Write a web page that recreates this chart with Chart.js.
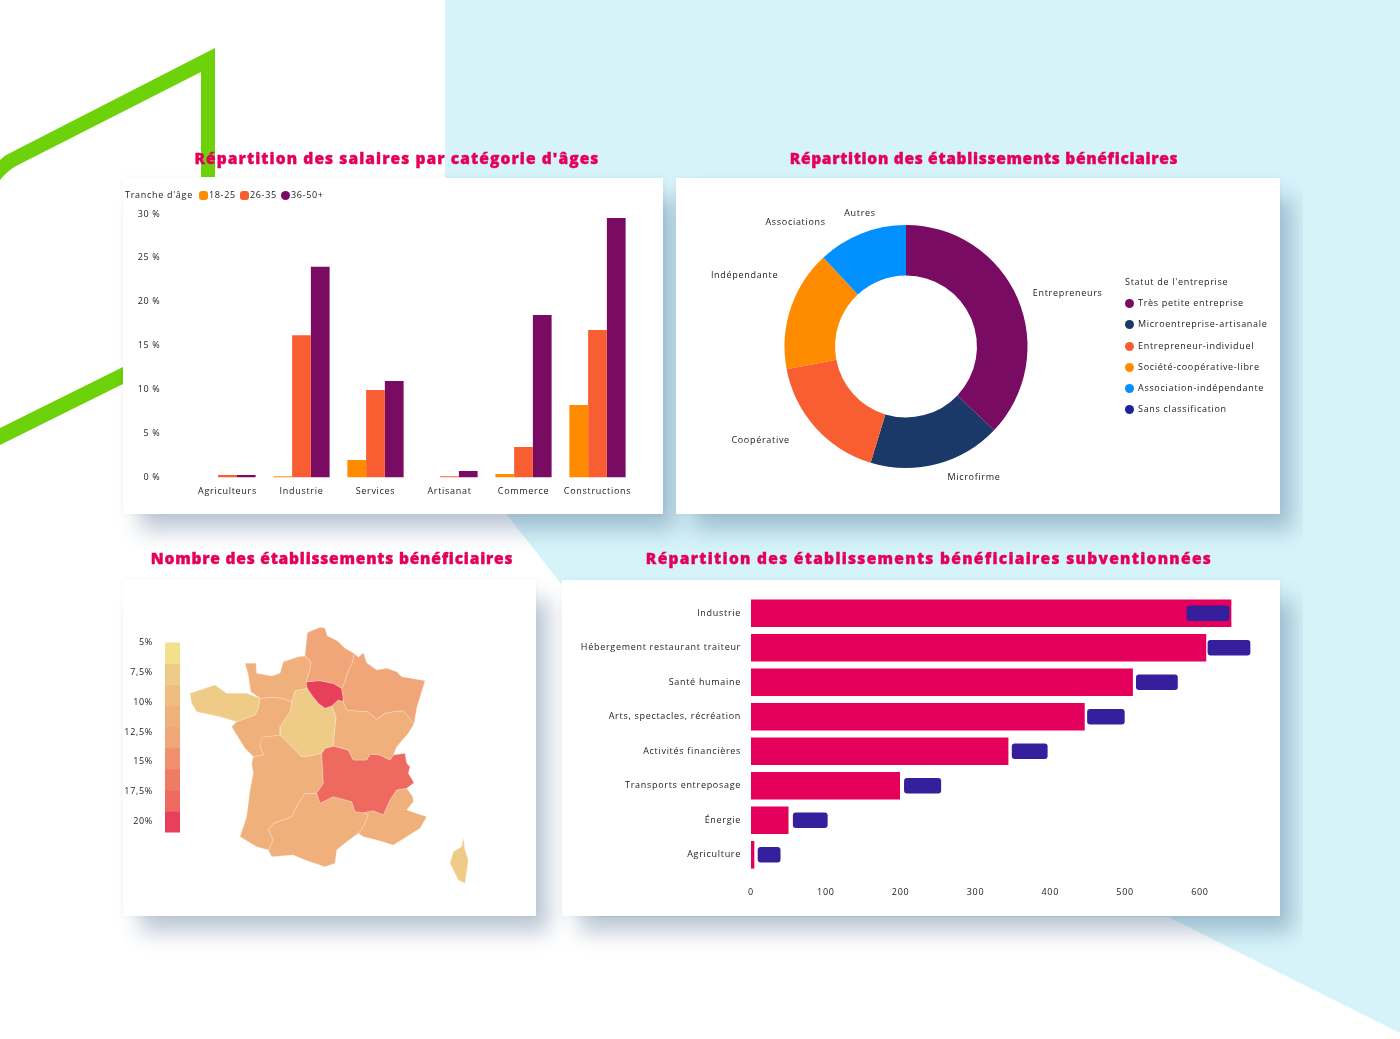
<!DOCTYPE html>
<html lang="fr">
<head>
<meta charset="utf-8">
<title>Tableau de bord</title>
<script src="https://cdn.jsdelivr.net/npm/chart.js@4/dist/chart.umd.js"></script>
<style>
    html, body { margin: 0; padding: 0; background: #fff; }
    body { width: 1400px; height: 1039px; position: relative; overflow: hidden; font-family: "Open Sans", sans-serif; color: #222; }
    #page { position: absolute; left: 0; top: 0; width: 1400px; height: 1039px; filter: blur(0.7px); }
    #decor { position: absolute; left: 0; top: 0; }
    #shadows { position: absolute; left: 0; top: 0; width: 1303px; height: 1039px; overflow: hidden; }
    .shadow { position: absolute; box-shadow: 15px 18px 20px -2px rgba(50, 85, 125, 0.32); }
    .card { position: absolute; background: #fff; box-shadow: 0 0 6px rgba(40, 60, 90, 0.05); }
    .card canvas { position: absolute; left: 0; top: 0; }
    .title { position: absolute; transform: translateX(-50%); white-space: nowrap; font-weight: 800; font-size: 15.5px; line-height: 16px; color: #e4005a; -webkit-text-stroke: 0.4px #e4005a; }
    .legend { position: absolute; font-size: 9px; letter-spacing: 0.7px; line-height: 10px; white-space: nowrap; }
    .legend i { display: inline-block; width: 9px; height: 9px; border-radius: 3px; vertical-align: -2px; }
    #legend-bars { left: 2px; top: 12px; }
    #legend-bars span { margin-right: 4px; }
    #legend-bars i { margin-right: 1px; }
    #legend-donut { left: 449px; top: 99px; }
    #legend-donut div { height: 21.2px; }
    #legend-donut i { border-radius: 50%; margin-right: 4px; }
</style>
</head>
<body>
<div id="page">
    <svg id="decor" width="1400" height="1039">
        <polygon fill="#d6f3fa" points="445,0 1400,0 1400,1033 1168,917 600,917 562,585 507,515 445,440"/>
        <path fill="#6dd20a" d="M215,48 L215,177 L201,177 L201,72 L18,165 Q8,170 0,180 L0,160 Q5,155 12,152 Z"/>
        <polygon fill="#6dd20a" points="0,428 123,367 123,384 0,445"/>
    </svg>
    <div id="shadows">
        <div class="shadow" style="left:123px;top:178px;width:540px;height:336px"></div>
        <div class="shadow" style="left:676px;top:178px;width:604px;height:336px"></div>
        <div class="shadow" style="left:123px;top:580px;width:413px;height:336px"></div>
        <div class="shadow" style="left:562px;top:580px;width:718px;height:336px"></div>
    </div>

    <div class="card" style="left:123px;top:178px;width:540px;height:336px">
        <canvas id="bars-chart" width="540" height="336"></canvas>
        <div class="legend" id="legend-bars"></div>
    </div>
    <div class="card" style="left:676px;top:178px;width:604px;height:336px">
        <canvas id="donut-chart" width="604" height="336"></canvas>
        <div class="legend" id="legend-donut"></div>
    </div>
    <div class="card" style="left:123px;top:580px;width:413px;height:336px">
        <canvas id="map-chart" width="413" height="336"></canvas>
        <canvas id="ramp-chart" width="60" height="225" style="top:45px"></canvas>
    </div>
    <div class="card" style="left:562px;top:580px;width:718px;height:336px">
        <canvas id="rows-chart" width="718" height="336"></canvas>
    </div>

    <div class="title" style="left:397px;top:150px;letter-spacing:1.1px">Répartition des salaires par catégorie d'âges</div>
    <div class="title" style="left:984px;top:150px;letter-spacing:0.7px">Répartition des établissements bénéficiaires</div>
    <div class="title" style="left:332px;top:550px;letter-spacing:0.8px">Nombre des établissements bénéficiaires</div>
    <div class="title" style="left:929px;top:550px;letter-spacing:1.3px">Répartition des établissements bénéficiaires subventionnées</div>
</div>

<script>
// Bars: salaries by sector and age band
const barCategories = ['Agriculteurs', 'Industrie', 'Services', 'Artisanat', 'Commerce', 'Constructions'];
const barLegendTitle = "Tranche d'âge";
const barSeriesNames = ['18-25', '26-35', '36-50+'];
const barSeriesA = [0, 0.15, 2, 0, 0.4, 8.26];
const barSeriesB = [0.28, 16.2, 9.97, 0.15, 3.47, 16.8];
const barSeriesC = [0.28, 24, 11, 0.74, 18.5, 29.55];
const barColors = ['#ff8c00', '#f95e32', '#7a0b62'];

// Donut: share of establishments
const donutLabels = ['Entrepreneurs', 'Microfirme', 'Coopérative', 'Indépendante', 'Associations', 'Autres'];
const donutValues = [37.1, 17.6, 17.3, 16.1, 11.9, 0];
const donutLegendTitle = "Statut de l'entreprise";
const donutLegendNames = ['Très petite entreprise', 'Microentreprise-artisanale', 'Entrepreneur-individuel',
    'Société-coopérative-libre', 'Association-indépendante', 'Sans classification'];
const donutColors = ['#7a0b62', '#1a3868', '#f95e32', '#ff8c00', '#0090ff', '#1f1fa0'];

// Map: share per region, outlines in map units
const rampStops = [5, 6.77, 8.54, 10.31, 12.07, 13.84, 15.61, 17.38, 19.15, 20.92];
const rampColors = ['#f2e08a', '#eecb87', '#efbd80', '#f0b07c', '#f0a678', '#ef8f6c', '#ee7b64', '#ee6a60', '#e8405a'];
const regionNames = ['Hauts-de-France', 'Grand Est', 'Île-de-France', 'Normandie', 'Bretagne', 'Pays de la Loire',
    'Centre-Val de Loire', 'Bourgogne-Franche-Comté', 'Auvergne-Rhône-Alpes', 'Nouvelle-Aquitaine', 'Occitanie', 'PACA', 'Corse'];
const regionValues = [13, 13, 20, 11, 8, 11, 8, 11, 17.5, 11, 11, 11, 8];
const regionOutlines = [
    [[232,38],[250,30],[270,22],[285,25],[292,48],[322,62],[345,85],[372,100],[368,125],[352,160],[345,185],[335,205],[310,190],[270,182],[228,185],[240,150],[243,125],[225,108]],
    [[372,100],[385,112],[400,98],[410,128],[440,150],[470,145],[500,155],[515,170],[585,182],[575,215],[560,265],[552,312],[535,290],[520,272],[490,275],[465,280],[440,298],[415,275],[370,272],[350,270],[340,245],[340,235],[335,205],[345,185],[352,160],[368,125]],
    [[228,185],[270,182],[310,190],[335,205],[340,235],[340,245],[325,240],[305,258],[285,265],[265,250],[245,225],[232,205]],
    [[45,130],[78,130],[80,160],[125,168],[150,160],[160,125],[205,110],[225,108],[243,125],[240,150],[228,185],[232,205],[195,212],[185,245],[160,235],[130,232],[90,235],[62,215],[55,165]],
    [[-120,220],[-45,195],[-10,220],[50,220],[90,235],[85,265],[75,285],[20,305],[-30,290],[-100,275],[-115,250]],
    [[90,235],[130,232],[160,235],[185,245],[180,275],[150,320],[150,345],[95,352],[90,380],[100,405],[70,410],[45,385],[20,345],[5,320],[20,305],[75,285],[85,265]],
    [[195,212],[232,205],[245,225],[265,250],[285,265],[305,258],[318,290],[312,350],[310,378],[285,385],[275,400],[240,408],[215,410],[190,385],[150,345],[150,320],[180,275],[185,245]],
    [[305,258],[325,240],[340,245],[350,270],[370,272],[415,275],[440,298],[465,280],[490,275],[520,272],[535,290],[552,312],[535,340],[500,380],[490,405],[480,420],[450,405],[420,402],[410,420],[370,420],[355,390],[310,378],[312,350],[318,290]],
    [[275,400],[285,385],[310,378],[355,390],[370,420],[410,420],[420,402],[450,405],[480,420],[490,405],[525,400],[530,430],[540,440],[535,460],[552,488],[530,505],[500,510],[480,540],[460,585],[430,572],[400,578],[375,575],[365,545],[310,530],[270,550],[260,520],[280,490]],
    [[90,352],[150,345],[190,385],[215,410],[240,408],[275,400],[280,490],[260,520],[225,520],[205,550],[185,590],[130,610],[115,630],[130,660],[115,690],[80,680],[30,650],[50,590],[60,510],[70,460],[65,430],[70,410],[100,405],[90,380]],
    [[115,690],[130,660],[115,630],[130,610],[185,590],[205,550],[225,520],[260,520],[270,550],[310,530],[365,545],[375,575],[400,578],[415,585],[400,620],[385,640],[350,665],[320,690],[315,730],[285,740],[225,720],[190,705],[125,710]],
    [[415,585],[400,578],[430,572],[460,585],[480,540],[500,510],[530,505],[548,530],[550,545],[530,570],[590,590],[570,625],[530,650],[490,675],[440,660],[400,650],[385,640],[400,620]],
    [[700,655],[705,690],[715,720],[705,790],[685,780],[660,730],[670,695],[695,680]]
];

// Rows: beneficiaries by activity, with the value tag beside each bar
const rowCategories = ['Industrie', 'Hébergement restaurant traiteur', 'Santé humaine', 'Arts, spectacles, récréation',
    'Activités financières', 'Transports entreposage', 'Énergie', 'Agriculture'];
const rowValues = [641.6, 608, 510, 445.6, 343.6, 198.7, 49.7, 4];
const rowTags = [[582.6, 639], [610.7, 667], [515, 570], [449.7, 499], [349, 396], [205, 253.7], [56.4, 102], [9.4, 39]];

// Donut label offsets from the slice edge, in pixels
const donutLabelOffsets = [[50, -5], [37, 13], [-55, 13], [-46, -33], [-66, -11], [-46, -12]];

document.addEventListener('DOMContentLoaded', function() {
    Chart.defaults.animation = false;
    Chart.defaults.responsive = false;
    Chart.defaults.font.family = '"Open Sans", sans-serif';
    Chart.defaults.font.size = 9;
    Chart.defaults.color = '#222';
    Chart.defaults.plugins.legend.display = false;
    Chart.defaults.plugins.tooltip.enabled = false;

    // The reference sets its labels wide
    Chart.register({
        id: 'wideText',
        beforeDraw(chart) {
            chart.ctx.letterSpacing = '0.7px';
        }
    });

    buildBarLegend();
    buildDonutLegend();
    createBarsChart();
    createDonutChart();
    createMapChart();
    createRampChart();
    createRowsChart();
});

function buildBarLegend() {
    let html = `<span style="margin-right:6px">${barLegendTitle}</span>`;
    barSeriesNames.forEach((name, i) => {
        const round = i === 2 ? ';border-radius:50%' : '';
        html += `<i style="background:${barColors[i]}${round}"></i><span>${name}</span>`;
    });
    document.getElementById('legend-bars').innerHTML = html;
}

function buildDonutLegend() {
    let html = `<div>${donutLegendTitle}</div>`;
    donutLegendNames.forEach((name, i) => {
        html += `<div><i style="background:${donutColors[i]}"></i>${name}</div>`;
    });
    document.getElementById('legend-donut').innerHTML = html;
}

function createBarsChart() {
    new Chart(document.getElementById('bars-chart'), {
        type: 'bar',
        data: {
            labels: barCategories,
            datasets: [barSeriesA, barSeriesB, barSeriesC].map((values, i) => ({
                label: barSeriesNames[i],
                data: values,
                backgroundColor: barColors[i],
                categoryPercentage: 0.76,
                barPercentage: 1
            }))
        },
        options: {
            layout: { padding: { top: 36, right: 28.5 } },
            scales: {
                x: {
                    grid: { display: false, drawTicks: false },
                    border: { display: false },
                    ticks: { padding: 9, autoSkip: false, maxRotation: 0 },
                    afterFit: scale => { scale.height = 36.5; }
                },
                y: {
                    min: 0,
                    max: 30,
                    grid: { display: false, drawTicks: false },
                    border: { display: false },
                    ticks: { stepSize: 5, padding: 30, callback: value => value + ' %' },
                    afterFit: scale => { scale.width = 67.5; }
                }
            }
        }
    });
}

function createDonutChart() {
    // Writes each slice name at its outer edge
    const sliceLabels = {
        id: 'sliceLabels',
        afterDatasetsDraw(chart) {
            const ctx = chart.ctx;
            ctx.save();
            ctx.font = '9px "Open Sans", sans-serif';
            ctx.fillStyle = '#222';
            ctx.textAlign = 'center';
            ctx.textBaseline = 'middle';
            chart.getDatasetMeta(0).data.forEach((arc, i) => {
                const mid = (arc.startAngle + arc.endAngle) / 2;
                const x = arc.x + Math.cos(mid) * arc.outerRadius + donutLabelOffsets[i][0];
                const y = arc.y + Math.sin(mid) * arc.outerRadius + donutLabelOffsets[i][1];
                ctx.fillText(donutLabels[i], x, y);
            });
            ctx.restore();
        }
    };

    new Chart(document.getElementById('donut-chart'), {
        type: 'doughnut',
        data: {
            labels: donutLabels,
            datasets: [{ data: donutValues, backgroundColor: donutColors, borderWidth: 0 }]
        },
        options: {
            cutout: '58.4%',
            radius: 121.5,
            layout: { padding: { top: 1, right: 144 } }
        },
        plugins: [sliceLabels]
    });
}

// Colour of the ramp band that holds a value
function rampColor(value) {
    let band = 0;
    while (band < rampColors.length - 1 && value >= rampStops[band + 1]) band++;
    return rampColors[band];
}

function createMapChart() {
    new Chart(document.getElementById('map-chart'), {
        type: 'scatter',
        data: {
            datasets: regionOutlines.map((outline, i) => ({
                label: regionNames[i],
                data: outline.concat([outline[0]]).map(p => ({ x: p[0], y: p[1] })),
                showLine: true,
                fill: 'shape',
                backgroundColor: rampColor(regionValues[i]),
                borderColor: 'rgba(255, 238, 220, 0.5)',
                borderWidth: 0.6,
                pointRadius: 0,
                tension: 0
            }))
        },
        options: {
            scales: {
                x: { type: 'linear', display: false, min: -321, max: 918 },
                y: { type: 'linear', display: false, min: -120, max: 888, reverse: true }
            }
        }
    });
}

function createRampChart() {
    new Chart(document.getElementById('ramp-chart'), {
        type: 'bar',
        data: {
            labels: ['Part'],
            datasets: rampColors.map((color, i) => ({
                data: [[rampStops[i], rampStops[i + 1]]],
                backgroundColor: color,
                grouped: false,
                barPercentage: 1,
                categoryPercentage: 1
            }))
        },
        options: {
            layout: { padding: { top: 12, right: 3 } },
            scales: {
                x: { display: false },
                y: {
                    min: rampStops[0],
                    max: rampStops[rampStops.length - 1],
                    reverse: true,
                    grid: { display: false, drawTicks: false },
                    border: { display: false },
                    ticks: {
                        stepSize: 2.5,
                        padding: 12,
                        // the scale also ticks its own maximum, which has no label
                        callback: value => (value % 2.5 === 0 ? String(value).replace('.', ',') + '%' : '')
                    },
                    afterFit: scale => { scale.width = 42; }
                }
            }
        }
    });
}

function createRowsChart() {
    new Chart(document.getElementById('rows-chart'), {
        type: 'bar',
        data: {
            labels: rowCategories,
            datasets: [
                {
                    label: 'Étiquette',
                    data: rowTags,
                    backgroundColor: '#361f9c',
                    barThickness: 15,
                    borderRadius: 3,
                    borderSkipped: false,
                    grouped: false
                },
                {
                    label: 'Entreprises',
                    data: rowValues,
                    backgroundColor: '#e4005a',
                    barThickness: 27,
                    grouped: false
                }
            ]
        },
        options: {
            indexAxis: 'y',
            layout: { padding: { top: 16 } },
            scales: {
                x: {
                    min: 0,
                    max: 687,
                    grid: { display: false, drawTicks: false },
                    border: { display: false },
                    ticks: { stepSize: 100, padding: 15, maxRotation: 0, callback: value => (value > 600 ? '' : value) },
                    afterFit: scale => { scale.height = 44; }
                },
                y: {
                    grid: { display: false, drawTicks: false },
                    border: { display: false },
                    ticks: { padding: 10, autoSkip: false },
                    afterFit: scale => { scale.width = 189; }
                }
            }
        }
    });
}
</script>
</body>
</html>
